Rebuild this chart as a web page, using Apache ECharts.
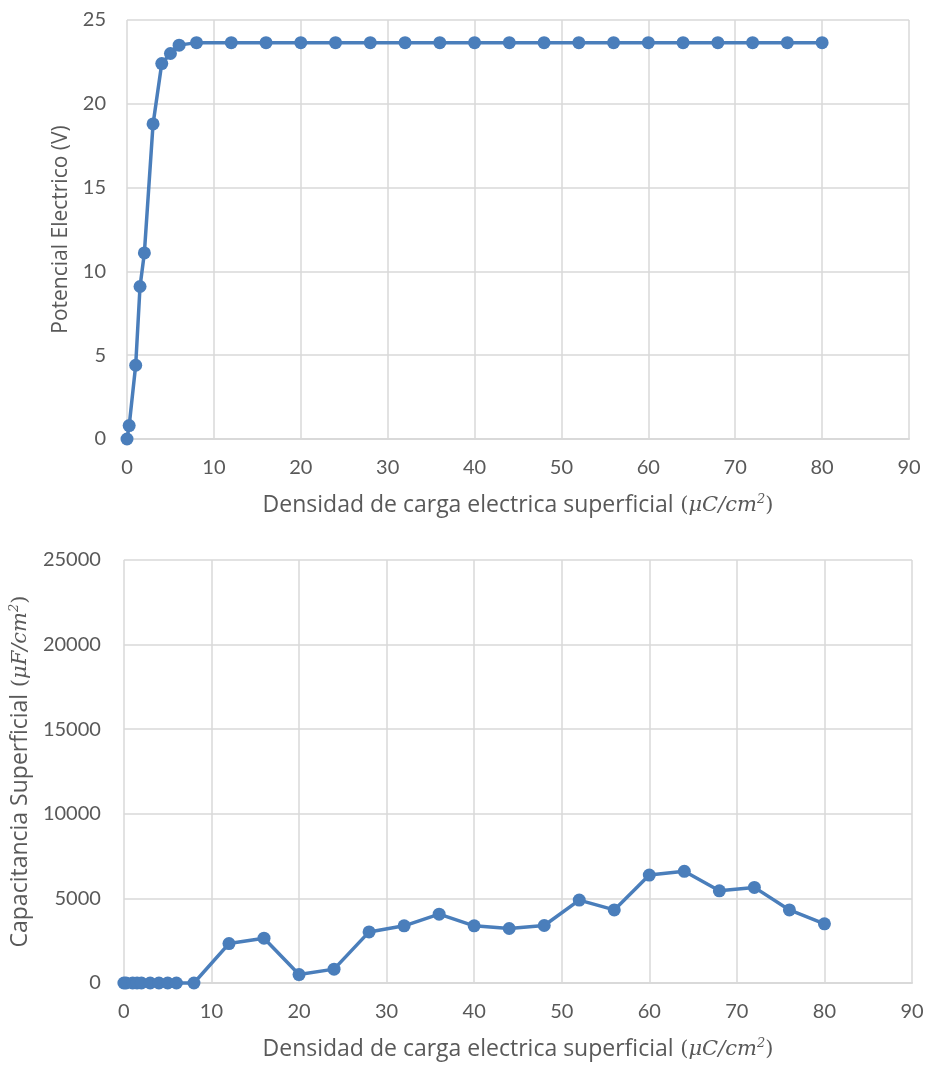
<!DOCTYPE html>
<html>
<head>
<meta charset="utf-8">
<script src="https://cdn.jsdelivr.net/npm/echarts@6/dist/echarts.min.js"></script>
<style>
  html, body { margin: 0; padding: 0; background: #ffffff; }
  #chart { width: 928px; height: 1066px; }
</style>
</head>
<body>
<div id="chart"></div>
<script>
// Surface charge density (µC/cm²)
const chargeDensity = [0, 0.25, 1, 1.5, 2, 3, 4, 5, 6, 8, 12, 16, 20, 24, 28, 32, 36, 40, 44, 48, 52, 56, 60, 64, 68, 72, 76, 80];
// Electric potential (V)
const potential = [0, 0.8, 4.4, 9.1, 11.1, 18.8, 22.4, 23.0, 23.5, 23.65, 23.65, 23.65, 23.65, 23.65, 23.65, 23.65, 23.65, 23.65, 23.65, 23.65, 23.65, 23.65, 23.65, 23.65, 23.65, 23.65, 23.65, 23.65];
// Surface capacitance (µF/cm²)
const capacitance = [0, 0, 0, 0, 0, 0, 0, 0, 0, 0, 2330, 2650, 500, 820, 3020, 3380, 4070, 3380, 3220, 3400, 4900, 4320, 6380, 6600, 5450, 5650, 4320, 3500];

const xTicks = { min: 0, max: 90, interval: 10 };
const potentialTicks = { min: 0, max: 25, interval: 5 };
const capacitanceTicks = { min: 0, max: 25000, interval: 5000 };

const BLUE = '#4a7ebb';
const TEXT = '#595959';
const GRID = '#d9d9d9';
const FONT = 'Lato, "Open Sans", sans-serif';
const TITLE_FONT = '"Open Sans", Lato, sans-serif';
const MATH = '"DejaVu Serif", "Liberation Serif", serif';

// Rich-text styles for the axis titles (plain words + italic unit with superscript)
function titleRich(size) {
  return {
    t: { fontFamily: TITLE_FONT, fontSize: size, color: TEXT },
    m: { fontFamily: MATH, fontSize: 21, color: TEXT },
    i: { fontFamily: MATH, fontStyle: 'italic', fontSize: 21, color: TEXT },
    s: { fontFamily: MATH, fontStyle: 'italic', fontSize: 13, color: TEXT, verticalAlign: 'top', padding: [0, 0, 12, 0] }
  };
}

const xTitle = '{t|Densidad de carga electrica superficial}{m| (}{i|μC/cm}{s|2}{m|)}';

function xAxisFor(gridIndex) {
  return {
    gridIndex: gridIndex,
    type: 'value',
    min: xTicks.min, max: xTicks.max, interval: xTicks.interval,
    name: xTitle,
    nameLocation: 'middle',
    nameGap: 54,
    nameTextStyle: { rich: titleRich(23) },
    axisLine: { show: true, lineStyle: { color: GRID, width: 2 } },
    axisTick: { show: false },
    axisLabel: { color: TEXT, fontSize: 20, fontFamily: FONT, margin: 19 },
    splitLine: { show: true, lineStyle: { color: GRID, width: 1.5 } }
  };
}

function yAxisFor(gridIndex, ticks, title, size, gap, margin) {
  return {
    gridIndex: gridIndex,
    type: 'value',
    min: ticks.min, max: ticks.max, interval: ticks.interval,
    name: title,
    nameLocation: 'middle',
    nameGap: gap,
    nameRotate: 90,
    nameTextStyle: { rich: titleRich(size) },
    axisLine: { show: false },
    axisTick: { show: false },
    axisLabel: { color: TEXT, fontSize: 20, fontFamily: FONT, margin: margin, formatter: v => String(v) },
    splitLine: { show: true, lineStyle: { color: GRID, width: 1.5 } }
  };
}

const chart = echarts.init(document.getElementById('chart'), null, { renderer: 'canvas' });

chart.setOption({
  backgroundColor: '#ffffff',
  animation: false,
  grid: [
    { left: 127, right: 19, top: 20, height: 419 },
    { left: 123, right: 16, top: 560, height: 423 }
  ],
  xAxis: [xAxisFor(0), xAxisFor(1)],
  yAxis: [
    yAxisFor(0, potentialTicks, '{t|Potencial Electrico (V)}', 21, 54, 21),
    yAxisFor(1, capacitanceTicks, '{t|Capacitancia Superficial}{m| (}{i|μF/cm}{s|2}{m|)}', 23, 84, 23)
  ],
  series: [
    {
      type: 'line',
      xAxisIndex: 0, yAxisIndex: 0,
      data: chargeDensity.map((x, i) => [x, potential[i]]),
      clip: false,
      symbol: 'circle', symbolSize: 13,
      lineStyle: { color: BLUE, width: 3.5 },
      itemStyle: { color: BLUE }
    },
    {
      type: 'line',
      xAxisIndex: 1, yAxisIndex: 1,
      data: chargeDensity.map((x, i) => [x, capacitance[i]]),
      clip: false,
      symbol: 'circle', symbolSize: 13,
      lineStyle: { color: BLUE, width: 3.5 },
      itemStyle: { color: BLUE }
    }
  ]
});
</script>
</body>
</html>
